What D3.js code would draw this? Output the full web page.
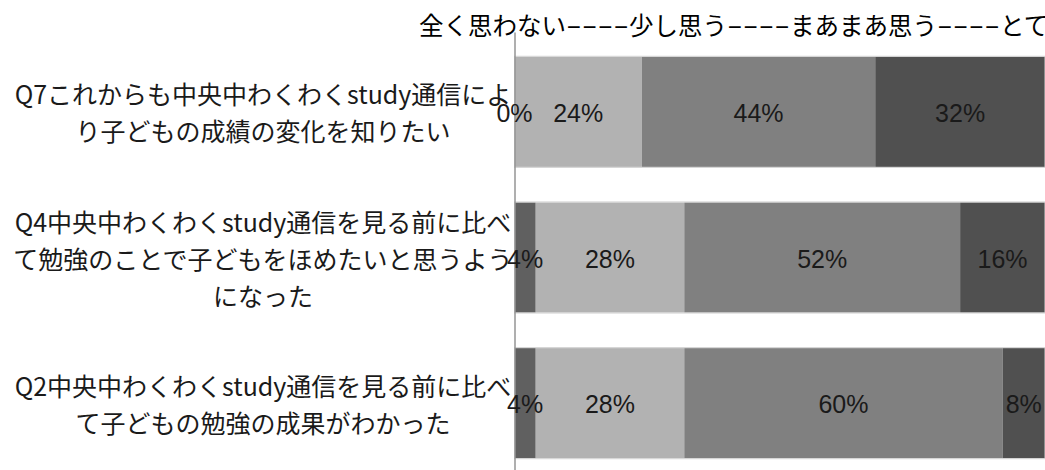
<!DOCTYPE html>
<html lang="ja">
<head>
<meta charset="utf-8">
<title>わくわくstudy通信 アンケート</title>
<style>
  body { margin: 0; background: #fff; overflow: hidden; }
  svg { display: block; }
  .label { font-family: "Noto Sans CJK JP", sans-serif; font-size: 25px; fill: #1a1a1a; }
  .pct { font-family: "Liberation Sans", Arial, sans-serif; font-size: 25px; fill: #1a1a1a; }
  .legend { font-family: "Noto Sans CJK JP", sans-serif; font-size: 24.5px; fill: #000; }
  .axis path { stroke: #959595; stroke-width: 1.5; }
</style>
</head>
<body>
<svg id="chart"></svg>
<script src="https://cdn.jsdelivr.net/npm/d3@7"></script>
<script>
// categories, top to bottom
const categories = ["Q7", "Q4", "Q2"];
const labelLines = [
    ["Q7これからも中央中わくわくstudy通信によ", "り子どもの成績の変化を知りたい"],
    ["Q4中央中わくわくstudy通信を見る前に比べ", "て勉強のことで子どもをほめたいと思うよう", "になった"],
    ["Q2中央中わくわくstudy通信を見る前に比べ", "て子どもの勉強の成果がわかった"]
];
// series (percent)
const seriesNames = ["全く思わない", "少し思う", "まあまあ思う", "とても思う"];
const notAtAll = [0, 4, 4];
const aLittle = [24, 28, 28];
const fairly = [44, 52, 60];
const veryMuch = [32, 16, 8];
const colors = ["#606060", "#b2b2b2", "#808080", "#505050"];

const W = 1045, H = 470;
const svg = d3.select("#chart").attr("width", W).attr("height", H);

const rows = categories.map((c, i) => ({
    cat: c,
    [seriesNames[0]]: notAtAll[i],
    [seriesNames[1]]: aLittle[i],
    [seriesNames[2]]: fairly[i],
    [seriesNames[3]]: veryMuch[i]
}));
const stacked = d3.stack().keys(seriesNames)(rows);

const x = d3.scaleLinear().domain([0, 100]).range([514.5, 1045]);
const y = d3.scaleBand().domain(categories).range([39, 476])
    .paddingInner(0.244).paddingOuter(0.122);

// legend line at the top: names joined by stretched "----"
const legend = svg.append("g").attr("class", "legend");
let cx = 419;
const dashW = 63;
seriesNames.forEach((name, i) => {
    if (i > 0) {
        const dash = legend.append("text")
            .attr("dominant-baseline", "central")
            .text("----");
        const w = dash.node().getComputedTextLength();
        dash.attr("transform", "translate(" + cx + ",24) scale(" + (dashW / w) + ",1)");
        cx += dashW;
    }
    const t = legend.append("text")
        .attr("x", cx).attr("y", 24)
        .attr("dominant-baseline", "central")
        .text(name);
    cx += t.node().getComputedTextLength();
});

// bars
const layer = svg.selectAll("g.layer")
    .data(stacked)
    .enter().append("g")
    .attr("class", "layer")
    .attr("fill", (d, i) => colors[i]);

layer.selectAll("rect")
    .data(d => d)
    .enter().append("rect")
    .attr("x", d => x(d[0]))
    .attr("y", d => y(d.data.cat))
    .attr("width", d => x(d[1]) - x(d[0]))
    .attr("height", y.bandwidth());

// faint outline of each bar
svg.selectAll("rect.outline")
    .data(categories)
    .enter().append("rect")
    .attr("class", "outline")
    .attr("x", x(0))
    .attr("y", d => y(d) - 0.5)
    .attr("width", x(100) - x(0))
    .attr("height", y.bandwidth() + 1)
    .attr("fill", "none")
    .attr("stroke", "#d2d2d2")
    .attr("stroke-width", 1);

// axis line
svg.append("g")
    .attr("class", "axis")
    .attr("transform", "translate(" + x(0) + ",0)")
    .call(d3.axisLeft(d3.scaleLinear().range([32, 470])).ticks(0).tickSizeOuter(0));

// category labels
const lineH = 37;
svg.selectAll("text.label")
    .data(categories)
    .enter().append("text")
    .attr("class", "label")
    .attr("text-anchor", "middle")
    .attr("dominant-baseline", "central")
    .each(function(d, i) {
        const lines = labelLines[i];
        const cy = y(d) + y.bandwidth() / 2;
        const top = cy - (lines.length - 1) * lineH / 2;
        d3.select(this).selectAll("tspan")
            .data(lines)
            .enter().append("tspan")
            .attr("x", 263)
            .attr("y", (l, j) => top + j * lineH)
            .text(l => l);
    });

// percent labels, on top of every bar
const pctG = svg.append("g");
stacked.forEach(s => {
    pctG.selectAll(null)
        .data(s)
        .enter().append("text")
        .attr("class", "pct")
        .attr("text-anchor", "middle")
        .attr("x", d => (x(d[0]) + x(d[1])) / 2)
        .attr("y", d => y(d.data.cat) + y.bandwidth() / 2)
        .attr("dy", "0.4em")
        .text(d => Math.round(d[1] - d[0]) + "%");
});
</script>
</body>
</html>
